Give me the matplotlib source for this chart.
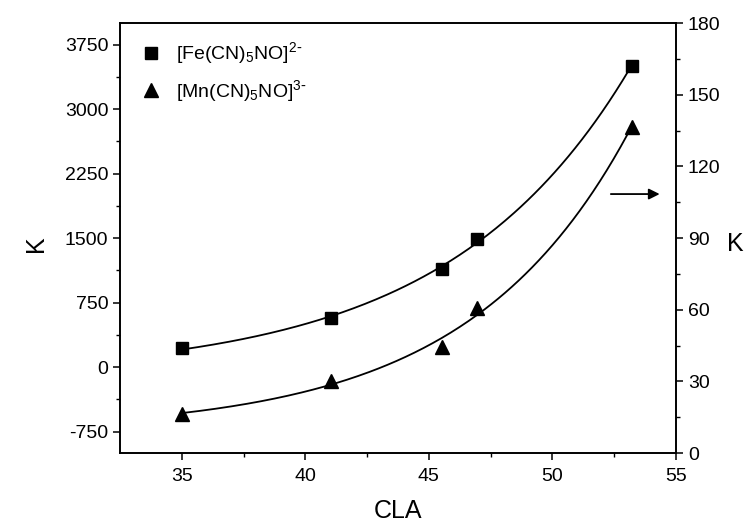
import numpy as np
import matplotlib
matplotlib.use('Agg')
import matplotlib.pyplot as plt

plt.rcParams['font.family'] = ['Liberation Sans', 'DejaVu Sans']
plt.rcParams['mathtext.default'] = 'regular'
plt.rcParams['axes.unicode_minus'] = False

# data
cla_fe = [35.0, 41.03, 45.54, 46.94, 53.2]
k_fe = [220, 567, 1140, 1490, 3500]        # left axis
cla_mn = [35.0, 41.03, 45.54, 46.94, 53.2]
k_mn = [16.3, 30.3, 44.2, 60.6, 136.5]     # right axis

fe_label = r'[Fe(CN)$_5$NO]$^{2\text{-}}$'
mn_label = r'[Mn(CN)$_5$NO]$^{3\text{-}}$'


def expgrow_fit(x, y):
    # y = y0 + A*exp(x/t), grid search on t, linear least squares for y0, A
    x = np.asarray(x, float)
    y = np.asarray(y, float)
    best = None
    for t in np.linspace(1, 40, 4000):
        M = np.column_stack([np.ones_like(x), np.exp(x / t)])
        coef, *_ = np.linalg.lstsq(M, y, rcond=None)
        err = np.sum((M @ coef - y) ** 2)
        if best is None or err < best[0]:
            best = (err, t, coef)
    _, t, (y0, a) = best
    return lambda xx: y0 + a * np.exp(xx / t)


fig = plt.figure(figsize=(7.46, 5.23), dpi=100)
ax = fig.add_axes([0.1609, 0.1338, 0.7453, 0.8222])
ax2 = ax.twinx()

xx = np.linspace(35, 53.2, 200)
ax.plot(xx, expgrow_fit(cla_fe, k_fe)(xx), color='black', lw=1.3)
ax2.plot(xx, expgrow_fit(cla_mn, k_mn)(xx), color='black', lw=1.3)

hs, = ax.plot(cla_fe, k_fe, 's', color='black', ms=8.5, label=fe_label)
ht, = ax2.plot(cla_mn, k_mn, '^', color='black', ms=10.5, label=mn_label)

ax.set_xlim(32.5, 55)
ax.set_ylim(-1000, 4000)
ax2.set_ylim(0, 180)

ax.set_xticks([35, 40, 45, 50, 55])
ax.set_xticks(np.arange(37.5, 55, 5), minor=True)
ax.set_yticks([-750, 0, 750, 1500, 2250, 3000, 3750])
ax.set_yticks(np.arange(-375, 4000, 750), minor=True)
ax2.set_yticks(np.arange(0, 181, 30))
ax2.set_yticks(np.arange(15, 180, 30), minor=True)

for a in (ax, ax2):
    for s in a.spines.values():
        s.set_linewidth(1.2)
    a.tick_params(which='major', length=5, width=1.1, labelsize=14)
    a.tick_params(which='minor', length=3, width=1.0)
ax.tick_params(axis='x', pad=6)

ax.set_xlabel('CLA', fontsize=18, labelpad=10)
ax.set_ylabel('K', fontsize=18)
ax.yaxis.set_label_coords(-0.13, 0.486)
ax2.set_ylabel('K', fontsize=18, rotation=0, va='center', ha='center')
ax2.yaxis.set_label_coords(1.106, 0.486)

ax2.annotate('', xy=(54.45, 108.4), xytext=(52.25, 108.4),
             arrowprops=dict(arrowstyle='-|>', color='black', lw=1.3,
                             mutation_scale=16))

ax.legend([hs, ht], [fe_label, mn_label], loc='upper left',
          bbox_to_anchor=(0.0, 1.0), frameon=False, fontsize=14,
          handletextpad=0.6, labelspacing=0.6, borderaxespad=0.5,
          handlelength=1.4)

fig.savefig('out.png', dpi=100)
